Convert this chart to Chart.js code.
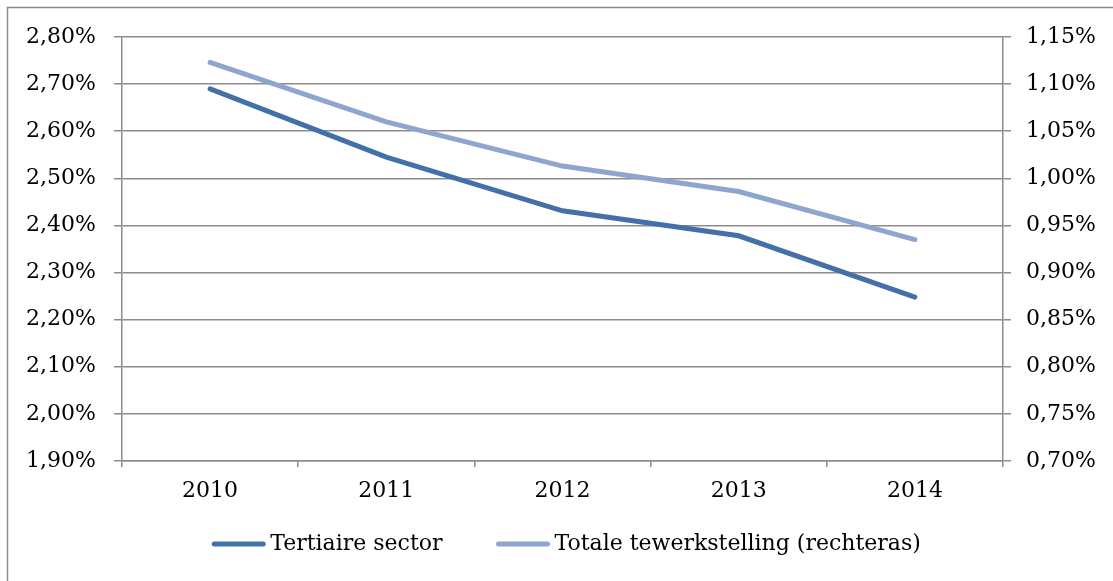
<!DOCTYPE html>
<html>
<head>
<meta charset="utf-8">
<script src="https://cdn.jsdelivr.net/npm/chart.js@4"></script>
<style>
  html, body { margin: 0; padding: 0; background: #fff; }
  #wrap { width: 1113px; height: 581px; position: relative; }
</style>
</head>
<body>
<div id="wrap"><canvas id="grafiek" width="1113" height="581"></canvas></div>
<script>
const jaren = ['2010', '2011', '2012', '2013', '2014'];
const tertiair = [2.69, 2.545, 2.431, 2.378, 2.248];
const totaal = [1.123, 1.060, 1.013, 0.986, 0.935];
const labels = ['Tertiaire sector', 'Totale tewerkstelling (rechteras)'];

const grijs = '#8c8c8c';
const fmt = v => v.toFixed(2).replace('.', ',') + '%';

Chart.defaults.font.family = "'DejaVu Serif', serif";
Chart.defaults.font.size = 22;
Chart.defaults.color = '#000';

// kader rond de grafiek (zoals in Excel)
const kader = {
  id: 'kader',
  beforeDraw(chart) {
    const c = chart.ctx;
    c.save();
    c.fillStyle = '#fff';
    c.fillRect(0, 0, chart.width, chart.height);
    c.strokeStyle = grijs;
    c.lineWidth = 1.5;
    c.strokeRect(7.5, 7.5, chart.width + 20, chart.height + 20);
    c.restore();
  }
};

// legende onderaan, lijntje vlak tegen de tekst zoals in Excel
const legende = {
  id: 'legende',
  afterDraw(chart) {
    const c = chart.ctx;
    const sets = chart.data.datasets;
    const lijn = 55, gat = 4, tussen = 53, y = 544;
    c.save();
    c.font = "22px 'DejaVu Serif', serif";
    c.textBaseline = 'middle';
    const breedtes = sets.map(d => lijn + gat + c.measureText(d.label).width);
    const totaalB = breedtes.reduce((a, b) => a + b, 0) + tussen * (sets.length - 1);
    let x = 566 - totaalB / 2;
    sets.forEach((d, i) => {
      c.strokeStyle = d.borderColor;
      c.lineWidth = 5;
      c.lineCap = 'round';
      c.beginPath();
      c.moveTo(x + 3, y);
      c.lineTo(x + lijn - 3, y);
      c.stroke();
      c.fillStyle = '#000';
      c.fillText(d.label, x + lijn + gat, y);
      x += breedtes[i] + tussen;
    });
    c.restore();
  }
};

const ctx = document.getElementById('grafiek').getContext('2d');
new Chart(ctx, {
  type: 'line',
  data: {
    labels: jaren,
    datasets: [{
      label: labels[0],
      data: tertiair,
      borderColor: '#4470a8',
      backgroundColor: '#4470a8',
      borderWidth: 5,
      pointRadius: 0,
      borderCapStyle: 'round',
      yAxisID: 'y'
    }, {
      label: labels[1],
      data: totaal,
      borderColor: '#8ea6cd',
      backgroundColor: '#8ea6cd',
      borderWidth: 5,
      pointRadius: 0,
      borderCapStyle: 'round',
      yAxisID: 'y1'
    }]
  },
  options: {
    responsive: false,
    animation: false,
    layout: { padding: { top: 37, bottom: 58, left: 0, right: 0 } },
    scales: {
      x: {
        offset: true,
        grid: { offset: true, drawOnChartArea: false, drawTicks: true, tickLength: 6, color: grijs, lineWidth: 1.5 },
        border: { display: true, color: grijs, width: 1.5 },
        ticks: { padding: 11 },
        afterFit(s) { s.height = 62; }
      },
      y: {
        position: 'left',
        min: 1.9,
        max: 2.8,
        ticks: { stepSize: 0.1, callback: v => fmt(v), padding: 18 },
        grid: { color: grijs, lineWidth: 1.5, tickLength: 8 },
        border: { display: true, color: grijs, width: 1.5 },
        afterFit(s) { s.width = 122; }
      },
      y1: {
        position: 'right',
        min: 0.7,
        max: 1.15,
        ticks: { stepSize: 0.05, callback: v => fmt(v), padding: 15 },
        grid: { drawOnChartArea: false, color: grijs, lineWidth: 1.5, tickLength: 8 },
        border: { display: true, color: grijs, width: 1.5 },
        afterFit(s) { s.width = 110; }
      }
    },
    plugins: {
      legend: { display: false },
      tooltip: { enabled: false }
    }
  },
  plugins: [kader, legende]
});
</script>
</body>
</html>
